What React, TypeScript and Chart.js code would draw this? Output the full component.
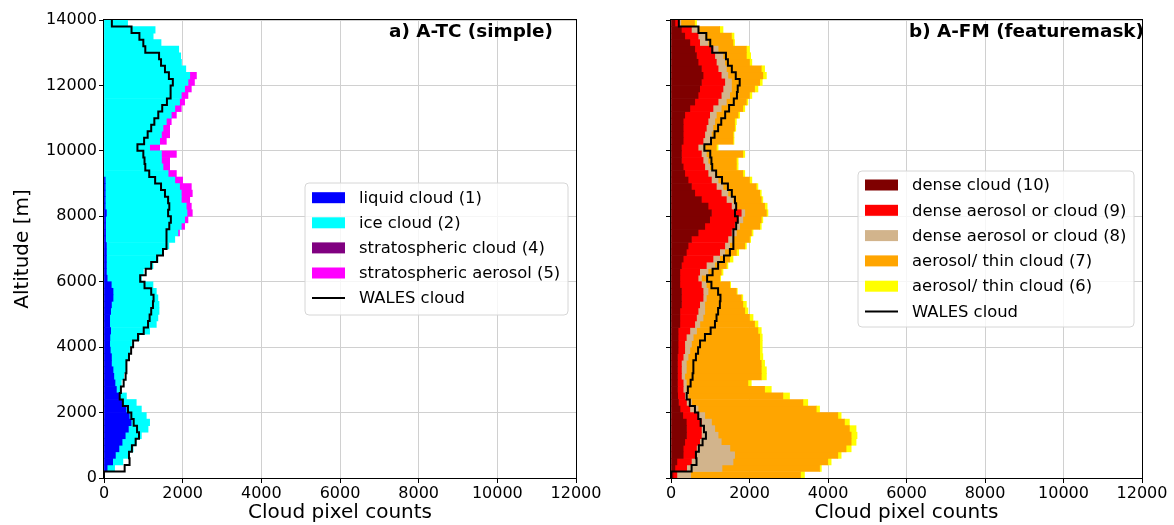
import React, { useEffect, useRef } from 'react';
import { Chart, registerables } from 'chart.js';

Chart.register(...registerables);
Chart.defaults.font.family = "'DejaVu Sans', sans-serif";
Chart.defaults.color = '#000';

// ---- altitude bins (m), bin edges bottom -> top ----
const BIN_EDGES = [
  0, 200, 400, 600, 800, 1000, 1200, 1400, 1600, 1800, 2000, 2200, 2400, 2600, 2800,
  3000, 3200, 3400, 3600, 3800, 4000, 4200, 4400, 4600, 4800, 5000, 5200, 5400, 5600,
  5800, 6000, 6200, 6400, 6600, 6800, 7000, 7200, 7400, 7600, 7800, 8000, 8200, 8400,
  8600, 8800, 9000, 9200, 9400, 9600, 9800, 10000, 10200, 10400, 10600, 10800, 11000,
  11200, 11400, 11600, 11800, 12000, 12200, 12400, 12600, 12800, 13000, 13200, 13400,
  13600, 13800, 14000,
];
const BIN_CENTERS = BIN_EDGES.slice(0, -1).map((e, i) => (e + BIN_EDGES[i + 1]) / 2);

const X_TICKS = [0, 2000, 4000, 6000, 8000, 10000, 12000];
const Y_TICKS = [0, 2000, 4000, 6000, 8000, 10000, 12000, 14000];

// ---- panel a) A-TC (simple) ----
const LIQUID_CLOUD = [
  0, 80, 220, 290, 380, 460, 540, 620, 690, 640,
  560, 470, 380, 315, 280, 250, 230, 190, 190, 160,
  145, 150, 170, 145, 145, 170, 190, 230, 230, 185,
  80, 60, 60, 60, 60, 60, 40, 40, 40, 40,
  60, 30, 30, 30, 30, 30, 0, 0, 0, 0,
  0, 0, 0, 0, 0, 0, 0, 0, 0, 0,
  0, 0, 0, 0, 0, 0, 0, 0, 0, 0,
];
const ICE_CLOUD = [
  0, 190, 260, 320, 360, 360, 410, 500, 470, 435,
  390, 350, 190, 85, 160, 250, 320, 380, 420, 490,
  555, 750, 990, 1185, 1225, 1230, 1210, 1140, 1100, 1060,
  870, 940, 1185, 1310, 1440, 1590, 1760, 1840, 1925, 2010,
  2050, 2060, 1935, 1935, 1890, 1770, 1630, 1500, 1460, 1460,
  1160, 1415, 1460, 1500, 1585, 1710, 1800, 1920, 1965, 2050,
  2135, 2180, 2080, 1970, 1950, 1900, 1450, 1250, 1300, 600,
];
const STRAT_CLOUD = [
  0, 0, 0, 0, 0, 0, 0, 0, 0, 0,
  0, 0, 0, 0, 0, 0, 0, 0, 0, 0,
  0, 0, 0, 0, 0, 0, 0, 0, 0, 0,
  0, 0, 0, 0, 0, 0, 0, 0, 0, 0,
  0, 0, 0, 0, 0, 0, 0, 0, 0, 0,
  0, 0, 0, 0, 0, 0, 0, 0, 0, 0,
  0, 0, 0, 0, 0, 0, 0, 0, 0, 0,
];
const STRAT_AEROSOL = [
  0, 0, 0, 0, 0, 0, 0, 0, 0, 0,
  0, 0, 0, 0, 0, 0, 0, 0, 0, 0,
  0, 0, 0, 0, 0, 0, 0, 0, 0, 0,
  0, 0, 0, 0, 0, 0, 0, 40, 85, 85,
  135, 130, 215, 280, 300, 200, 210, 170, 210, 380,
  255, 170, 210, 170, 125, 130, 165, 130, 170, 170,
  165, 170, 0, 0, 0, 0, 0, 0, 0, 0,
];
const WALES_CLOUD = [
  0, 525, 650, 635, 710, 805, 890, 840, 755, 695,
  610, 480, 400, 430, 500, 550, 570, 570, 635, 690,
  740, 865, 1010, 1120, 1160, 1200, 1245, 1260, 1200, 1030,
  920, 1060, 1200, 1350, 1500, 1585, 1580, 1600, 1660, 1700,
  1630, 1660, 1630, 1550, 1450, 1300, 1150, 1050, 1030, 1000,
  850, 1020, 1110, 1200, 1280, 1380, 1480, 1600, 1680, 1700,
  1750, 1650, 1550, 1450, 1400, 1050, 1000, 900, 700, 200,
];

// ---- panel b) A-FM (featuremask) ----
const DENSE_CLOUD_10 = [
  50, 100, 150, 310, 310, 350, 395, 395, 390, 300,
  230, 190, 170, 165, 165, 165, 165, 165, 165, 180,
  180, 180, 180, 225, 225, 225, 266, 266, 266, 225,
  225, 225, 266, 310, 390, 435, 520, 690, 860, 985,
  1030, 944, 775, 605, 520, 435, 350, 310, 266, 266,
  266, 310, 310, 310, 310, 350, 480, 605, 690, 730,
  775, 817, 775, 690, 650, 605, 480, 350, 266, 100,
];
const DENSE_AEROSOL_9 = [
  100, 300, 370, 340, 340, 380, 380, 380, 385, 390,
  250, 205, 180, 145, 145, 101, 101, 101, 145, 170,
  170, 210, 300, 380, 425, 465, 464, 551, 551, 550,
  465, 505, 634, 760, 850, 935, 930, 850, 760, 725,
  760, 596, 635, 675, 635, 595, 594, 550, 551, 509,
  424, 507, 550, 590, 634, 635, 590, 595, 590, 595,
  595, 463, 425, 465, 465, 465, 250, 340, 254, 100,
];
const DENSE_AEROSOL_8 = [
  350, 900, 1060, 970, 850, 550, 425, 340, 255, 170,
  210, 125, 85, 80, 80, 84, 124, 124, 125, 130,
  170, 175, 170, 130, 167, 170, 130, 83, 127, 125,
  85, 214, 215, 170, 130, 125, 130, 125, 130, 120,
  90, 125, 170, 170, 170, 170, 171, 125, 127, 125,
  127, 168, 170, 170, 171, 170, 210, 210, 215, 215,
  170, 170, 210, 215, 210, 130, 214, 170, 170, 50,
];
const THIN_CLOUD_7 = [
  2800, 2485, 2415, 2630, 2960, 3310, 3390, 3430, 3390, 3390,
  3010, 2840, 2415, 1995, 1570, 1950, 1910, 1910, 1825, 1780,
  1740, 1695, 1565, 1395, 1183, 1020, 970, 890, 721, 595,
  465, 336, 295, 255, 295, 385, 420, 385, 510, 470,
  550, 720, 720, 810, 845, 800, 715, 680, 721, 930,
  338, 595, 550, 550, 505, 555, 550, 510, 505, 590,
  720, 890, 890, 630, 595, 720, 636, 680, 550, 350,
];
const THIN_CLOUD_6 = [
  100, 45, 85, 85, 130, 125, 150, 170, 125, 85,
  85, 125, 170, 170, 85, 130, 130, 85, 80, 65,
  65, 65, 85, 85, 90, 80, 90, 40, 25, 25,
  25, 45, 40, 85, 60, 40, 30, 40, 40, 40,
  40, 65, 40, 40, 45, 60, 50, 45, 45, 50,
  45, 25, 25, 30, 45, 40, 50, 40, 60, 85,
  65, 90, 85, 60, 110, 80, 40, 65, 85, 50,
];

type Series = { label: string; values: number[]; color: string };

const PANEL_A: Series[] = [
  { label: 'liquid cloud (1)', values: LIQUID_CLOUD, color: '#0000ff' },
  { label: 'ice cloud (2)', values: ICE_CLOUD, color: '#00ffff' },
  { label: 'stratospheric cloud (4)', values: STRAT_CLOUD, color: '#800080' },
  { label: 'stratospheric aerosol (5)', values: STRAT_AEROSOL, color: '#ff00ff' },
];
const PANEL_B: Series[] = [
  { label: 'dense cloud (10)', values: DENSE_CLOUD_10, color: '#7f0000' },
  { label: 'dense aerosol or cloud (9)', values: DENSE_AEROSOL_9, color: '#ff0000' },
  { label: 'dense aerosol or cloud (8)', values: DENSE_AEROSOL_8, color: '#d2b48c' },
  { label: 'aerosol/ thin cloud (7)', values: THIN_CLOUD_7, color: '#ffa500' },
  { label: 'aerosol/ thin cloud (6)', values: THIN_CLOUD_6, color: '#ffff00' },
];

type PanelCfg = {
  series: Series[];
  title: string;
  titleX: number;
  showYLabels: boolean;
  yWidth: number;
  padRight: number;
  canvasLeft: number;
  canvasWidth: number;
  legend: { x: number; y: number; w: number; h: number; row0: number; rowStep: number };
};

const PANELS: PanelCfg[] = [
  {
    series: PANEL_A,
    title: 'a) A-TC (simple)',
    titleX: 553,
    showYLabels: true,
    yWidth: 104,
    padRight: 44,
    canvasLeft: 0,
    canvasWidth: 620,
    legend: { x: 305, y: 183, w: 263, h: 132, row0: 197.7, rowStep: 25.1 },
  },
  {
    series: PANEL_B,
    title: 'b) A-FM (featuremask)',
    titleX: 557,
    showYLabels: false,
    yWidth: 84,
    padRight: 32,
    canvasLeft: 587,
    canvasWidth: 587,
    legend: { x: 271, y: 171, w: 276, h: 156, row0: 185, rowStep: 25.3 },
  },
];

function buildConfig(p: PanelCfg): any {
  const walesPts: { x: number; y: number }[] = [];
  WALES_CLOUD.forEach((w, i) => {
    walesPts.push({ x: w, y: BIN_EDGES[i] });
    walesPts.push({ x: w, y: BIN_EDGES[i + 1] });
  });

  const datasets: any[] = [
    {
      type: 'line',
      label: 'WALES cloud',
      data: walesPts,
      borderColor: '#000000',
      borderWidth: 2,
      pointRadius: 0,
      pointHoverRadius: 0,
      fill: false,
      tension: 0,
      stack: 'wales',
      order: 0,
      borderJoinStyle: 'miter',
    },
    ...p.series.map((s) => ({
      type: 'bar',
      label: s.label,
      data: s.values.map((v) => (v ? v : null)),
      backgroundColor: s.color,
      borderWidth: 0,
      barPercentage: 1,
      categoryPercentage: 1,
      stack: 'classes',
      order: 1,
    })),
  ];

  const decor = {
    id: 'decor',
    afterDraw(chart: any) {
      const { ctx, chartArea: a } = chart;
      ctx.save();
      // spines
      ctx.strokeStyle = '#000';
      ctx.lineWidth = 1;
      ctx.strokeRect(
        Math.round(a.left) - 0.5,
        Math.round(a.top) - 0.5,
        Math.round(a.right) - Math.round(a.left) + 1,
        Math.round(a.bottom) - Math.round(a.top) + 1
      );
      // panel title
      ctx.font = "bold 18.4px 'DejaVu Sans', sans-serif";
      ctx.fillStyle = '#000';
      ctx.textAlign = 'right';
      ctx.textBaseline = 'middle';
      ctx.fillText(p.title, p.titleX, 32);
      // legend box
      const L = p.legend;
      ctx.beginPath();
      const r = 4;
      ctx.moveTo(L.x + r, L.y);
      ctx.lineTo(L.x + L.w - r, L.y);
      ctx.arcTo(L.x + L.w, L.y, L.x + L.w, L.y + r, r);
      ctx.lineTo(L.x + L.w, L.y + L.h - r);
      ctx.arcTo(L.x + L.w, L.y + L.h, L.x + L.w - r, L.y + L.h, r);
      ctx.lineTo(L.x + r, L.y + L.h);
      ctx.arcTo(L.x, L.y + L.h, L.x, L.y + L.h - r, r);
      ctx.lineTo(L.x, L.y + r);
      ctx.arcTo(L.x, L.y, L.x + r, L.y, r);
      ctx.closePath();
      ctx.fillStyle = 'rgba(255,255,255,0.8)';
      ctx.fill();
      ctx.strokeStyle = '#d6d6d6';
      ctx.lineWidth = 1;
      ctx.stroke();
      // legend entries
      const px = L.x + 7;
      const pw = 33;
      const tx = L.x + 54;
      ctx.font = "16.4px 'DejaVu Sans', sans-serif";
      ctx.textAlign = 'left';
      ctx.textBaseline = 'middle';
      const entries = [...p.series.map((s) => ({ label: s.label, color: s.color, line: false })), { label: 'WALES cloud', color: '#000', line: true }];
      entries.forEach((e, i) => {
        const cy = L.row0 + i * L.rowStep;
        if (e.line) {
          ctx.strokeStyle = '#000';
          ctx.lineWidth = 2;
          ctx.beginPath();
          ctx.moveTo(px, cy);
          ctx.lineTo(px + pw, cy);
          ctx.stroke();
        } else {
          ctx.fillStyle = e.color;
          ctx.fillRect(px, cy - 5.5, pw, 11);
        }
        ctx.fillStyle = '#000';
        ctx.fillText(e.label, tx, cy + 1);
      });
      ctx.restore();
    },
  };

  return {
    type: 'bar',
    data: { labels: BIN_CENTERS, datasets },
    plugins: [decor],
    options: {
      animation: false,
      responsive: false,
      indexAxis: 'y',
      events: [],
      layout: { padding: { left: 0, top: 20, right: p.padRight, bottom: 0 } },
      plugins: { legend: { display: false }, tooltip: { enabled: false }, title: { display: false } },
      scales: {
        x: {
          type: 'linear',
          min: X_TICKS[0],
          max: X_TICKS[X_TICKS.length - 1],
          stacked: true,
          offset: false,
          afterBuildTicks: (s: any) => {
            s.ticks = X_TICKS.map((v) => ({ value: v }));
          },
          ticks: {
            font: { size: 16 },
            color: '#000',
            padding: 1,
            autoSkip: false,
            maxRotation: 0,
            callback: (v: any) => String(v),
          },
          grid: { offset: false, color: '#d0d0d0', lineWidth: 1, tickLength: 5, tickColor: '#000', drawTicks: true },
          border: { display: false },
          title: { display: true, text: 'Cloud pixel counts', font: { size: 20 }, color: '#000', padding: { top: 0, bottom: 0 } },
          afterFit: (s: any) => {
            s.height = 47;
            s.paddingLeft = 0;
            s.paddingRight = 0;
          },
        },
        y: {
          type: 'linear',
          min: Y_TICKS[0],
          max: Y_TICKS[Y_TICKS.length - 1],
          stacked: true,
          offset: false,
          afterBuildTicks: (s: any) => {
            s.ticks = Y_TICKS.map((v) => ({ value: v }));
          },
          ticks: {
            font: { size: 16 },
            color: '#000',
            padding: 2,
            autoSkip: false,
            callback: (v: any) => (p.showYLabels ? String(v) : ''),
          },
          grid: { offset: false, color: '#d0d0d0', lineWidth: 1, tickLength: 5, tickColor: '#000', drawTicks: true },
          border: { display: false },
          title: { display: p.showYLabels, text: 'Altitude [m]', font: { size: 20 }, color: '#000', padding: { top: 11, bottom: 0 } },
          afterFit: (s: any) => {
            s.width = p.yWidth;
            s.paddingTop = 0;
            s.paddingBottom = 0;
          },
        },
      },
    },
  };
}

function PanelChart({ cfg }: { cfg: PanelCfg }) {
  const ref = useRef<HTMLCanvasElement | null>(null);
  useEffect(() => {
    if (!ref.current) return;
    const chart = new Chart(ref.current, buildConfig(cfg));
    return () => chart.destroy();
  }, [cfg]);
  return (
    <canvas
      ref={ref}
      width={cfg.canvasWidth}
      height={525}
      style={{ position: 'absolute', left: cfg.canvasLeft, top: 0, width: cfg.canvasWidth, height: 525 }}
    />
  );
}

export default function App() {
  return (
    <div style={{ position: 'absolute', left: 0, top: 0, width: 1174, height: 525, background: '#fff', overflow: 'hidden' }}>
      <PanelChart cfg={PANELS[0]} />
      <PanelChart cfg={PANELS[1]} />
    </div>
  );
}
